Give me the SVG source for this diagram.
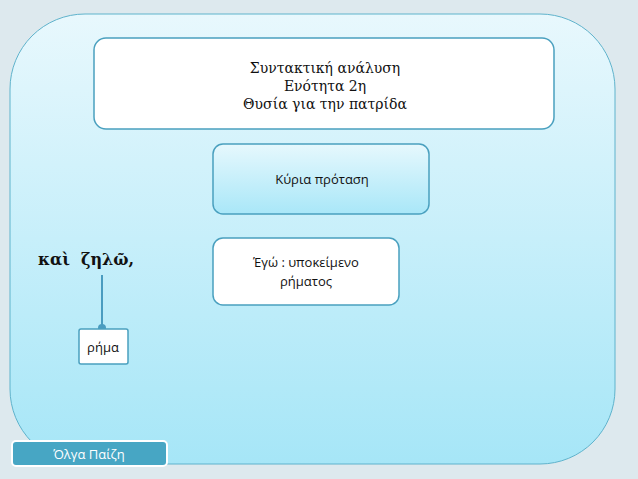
<svg xmlns="http://www.w3.org/2000/svg" width="638" height="479" viewBox="0 0 638 479">
<defs>
<linearGradient id="bg" x1="0" y1="0" x2="0" y2="1"><stop offset="0" stop-color="#e8f8fd"/><stop offset="1" stop-color="#a6e6f7"/></linearGradient>
<linearGradient id="kg" x1="0" y1="0" x2="0" y2="1"><stop offset="0" stop-color="#e6f8fd"/><stop offset="1" stop-color="#a9e7f8"/></linearGradient>
<marker id="ar" markerWidth="6" markerHeight="6" refX="3" refY="3" orient="auto"><circle cx="3" cy="3" r="2" fill="#4a9cc0"/></marker>
</defs>
<style>
.t{font-family:"DejaVu Serif","Liberation Serif",serif;font-size:14px;fill:#111;text-anchor:middle}
.s{font-family:"Open Sans","Liberation Sans",sans-serif;font-size:13px;fill:#111;text-anchor:middle}
.box{fill:#fff;stroke:#4aa0bf;stroke-width:1.5}
</style>
<rect width="638" height="479" fill="#dde9ee"/>
<rect x="10" y="14" width="605" height="450" rx="75" fill="url(#bg)" stroke="#5fb3cc" stroke-width="1"/>
<g id="title"><rect class="box" x="94" y="38" width="460" height="91" rx="12"/>
<text class="t" x="325" y="73">Συντακτική ανάλυση</text><text class="t" x="325" y="91">Ενότητα 2η</text><text class="t" x="325" y="109">Θυσία για την πατρίδα</text></g>
<g id="kyria"><rect x="213" y="144" width="216" height="70" rx="10" fill="url(#kg)" stroke="#4aa0bf" stroke-width="1.5"/>
<text class="s" x="322" y="184">Κύρια πρόταση</text></g>
<g id="ego"><rect class="box" x="213" y="238" width="186" height="67" rx="10"/>
<text class="s" x="306" y="267">Έγώ : υποκείμενο</text><text class="s" x="306" y="286">ρήματος</text></g>
<g id="words"><text x="38" y="265" font-family="DejaVu Serif,serif" font-size="16" font-weight="bold" fill="#111">καὶ</text>
<text x="81" y="265" font-family="DejaVu Serif,serif" font-size="16" font-weight="bold" fill="#111">ζηλῶ,</text></g>
<g id="connectors"><line x1="102" y1="275" x2="102" y2="328" stroke="#4a9cc0" stroke-width="2" marker-end="url(#ar)"/></g>
<g id="rima"><rect class="box" x="79" y="329" width="49" height="35" rx="2"/><text class="s" x="103" y="352">ρήμα</text></g>
<g id="author"><rect x="12" y="441" width="155" height="25" rx="4" fill="#47a6c4" stroke="#fff" stroke-width="2"/>
<text x="89" y="459" font-family="Open Sans,Liberation Sans,sans-serif" font-size="13" fill="#fff" text-anchor="middle">Όλγα Παίζη</text></g>
</svg>
